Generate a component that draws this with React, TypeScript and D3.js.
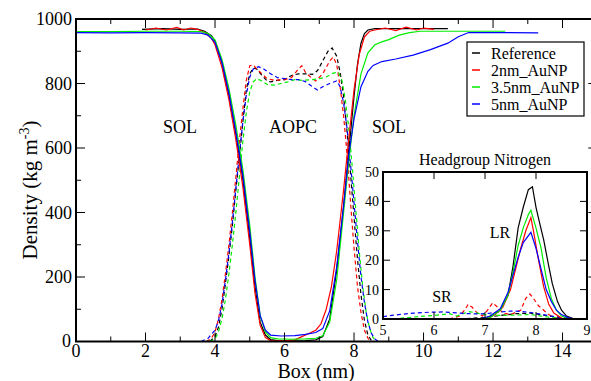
import React from "react";
import * as d3 from "d3";

// ---------- Data (main plot: density profiles, kg m^-3 vs box, nm) ----------
const seriesNames = ["Reference", "2nm_AuNP", "3.5nm_AuNP", "5nm_AuNP"];
const seriesColors = ["#000000", "#ff0000", "#00ee00", "#0000ff"];

// Solvent (solid)
const refSol: [number, number][] = [
  [1.9, 968], [2.5, 970], [3.0, 968], [3.5, 969], [3.7, 962], [3.9, 948], [4.0, 932], [4.2, 865], [4.4, 765], [4.6, 645],
  [4.8, 505], [5.0, 320], [5.15, 170], [5.3, 60], [5.45, 20], [5.6, 6], [5.8, 3], [6.2, 2], [6.6, 3], [6.9, 5],
  [7.1, 15], [7.3, 70], [7.5, 220], [7.7, 420], [7.85, 590], [8.0, 760], [8.1, 860], [8.2, 925], [8.3, 955], [8.4, 966],
  [8.6, 970], [9.0, 970], [9.5, 970], [10.0, 970], [10.7, 970],
];
const np2Sol: [number, number][] = [
  [2.0, 966], [2.3, 972], [2.6, 966], [2.9, 974], [3.1, 966], [3.3, 972], [3.5, 968], [3.7, 958], [3.9, 940], [4.0, 920],
  [4.2, 850], [4.4, 750], [4.6, 625], [4.8, 480], [5.0, 300], [5.15, 150], [5.3, 50], [5.45, 12], [5.6, 3], [6.0, 2],
  [6.3, 5], [6.5, 15], [6.7, 25], [6.9, 35], [7.05, 55], [7.2, 100], [7.35, 170], [7.5, 280], [7.7, 470], [7.85, 630],
  [8.0, 780], [8.15, 890], [8.3, 945], [8.45, 962], [8.6, 966], [8.9, 972], [9.2, 964], [9.5, 975], [9.8, 966], [10.0, 972], [10.3, 968],
];
const np35Sol: [number, number][] = [
  [0.0, 961], [1.0, 961], [2.0, 962], [3.0, 962], [3.6, 961], [3.8, 955], [4.0, 935], [4.2, 875], [4.4, 785], [4.6, 670],
  [4.8, 535], [5.0, 360], [5.15, 200], [5.3, 80], [5.45, 30], [5.6, 12], [5.8, 8], [6.2, 7], [6.6, 8], [6.9, 10],
  [7.1, 18], [7.3, 60], [7.5, 190], [7.7, 400], [7.85, 560], [8.0, 700], [8.2, 830], [8.4, 895], [8.6, 920], [8.8, 929],
  [9.0, 936], [9.3, 950], [9.6, 958], [9.9, 962], [10.5, 962], [11.5, 962], [12.35, 962],
];
const np5Sol: [number, number][] = [
  [0.0, 958], [1.0, 957], [2.0, 958], [3.0, 957], [3.6, 956], [3.8, 950], [4.0, 928], [4.2, 865], [4.4, 770], [4.6, 650],
  [4.8, 515], [5.0, 340], [5.15, 190], [5.3, 80], [5.45, 35], [5.6, 20], [5.9, 17], [6.3, 18], [6.6, 22], [6.9, 28],
  [7.1, 40], [7.3, 95], [7.5, 230], [7.7, 420], [7.85, 580], [8.0, 690], [8.2, 790], [8.4, 838], [8.55, 856], [8.8, 868],
  [9.2, 876], [9.7, 888], [10.2, 905], [10.7, 925], [11.0, 945], [11.3, 958], [12.0, 958], [13.3, 957],
];

// Lipid AOPC (dashed)
const refLip: [number, number][] = [
  [3.85, 0], [4.0, 15], [4.1, 45], [4.2, 100], [4.3, 180], [4.4, 265], [4.5, 360], [4.6, 470], [4.7, 570], [4.8, 680],
  [4.9, 780], [5.0, 830], [5.1, 848], [5.2, 845], [5.35, 825], [5.5, 808], [5.6, 805], [5.8, 810], [6.0, 812], [6.2, 825],
  [6.4, 830], [6.6, 830], [6.8, 828], [6.95, 840], [7.1, 870], [7.25, 900], [7.37, 910], [7.5, 885], [7.6, 835], [7.7, 760],
  [7.8, 650], [7.9, 520], [8.0, 385], [8.1, 255], [8.2, 145], [8.3, 65], [8.4, 20], [8.5, 3], [8.55, 0],
];
const np2Lip: [number, number][] = [
  [3.75, 0], [3.9, 10], [4.0, 30], [4.1, 70], [4.2, 130], [4.3, 210], [4.4, 300], [4.5, 400], [4.6, 510], [4.7, 620],
  [4.8, 720], [4.9, 810], [5.0, 855], [5.1, 858], [5.2, 845], [5.35, 830], [5.5, 815], [5.7, 810], [6.0, 812], [6.2, 818],
  [6.4, 845], [6.5, 855], [6.6, 835], [6.8, 815], [6.9, 808], [7.1, 830], [7.3, 870], [7.4, 882], [7.5, 860], [7.6, 790],
  [7.7, 700], [7.8, 580], [7.9, 430], [8.0, 290], [8.1, 170], [8.2, 90], [8.3, 35], [8.4, 10], [8.48, 0],
];
const np35Lip: [number, number][] = [
  [3.85, 0], [4.0, 8], [4.1, 30], [4.2, 70], [4.3, 130], [4.4, 210], [4.5, 300], [4.6, 400], [4.7, 510], [4.8, 620],
  [4.9, 710], [5.0, 775], [5.1, 805], [5.2, 815], [5.35, 808], [5.5, 797], [5.7, 795], [5.9, 800], [6.1, 805], [6.3, 812],
  [6.5, 810], [6.8, 812], [7.0, 815], [7.2, 820], [7.4, 832], [7.55, 835], [7.65, 810], [7.75, 750], [7.85, 660], [7.95, 540],
  [8.05, 410], [8.15, 280], [8.25, 170], [8.35, 90], [8.45, 40], [8.55, 12], [8.65, 0],
];
const np5Lip: [number, number][] = [
  [3.6, 0], [3.8, 10], [4.0, 35], [4.1, 65], [4.2, 115], [4.3, 190], [4.4, 275], [4.5, 370], [4.6, 475], [4.7, 580],
  [4.8, 680], [4.9, 765], [5.0, 820], [5.1, 845], [5.25, 852], [5.4, 845], [5.6, 830], [5.8, 818], [6.0, 815], [6.2, 812],
  [6.4, 812], [6.6, 806], [6.8, 790], [6.95, 780], [7.1, 790], [7.3, 800], [7.5, 808], [7.6, 790], [7.7, 740], [7.8, 660],
  [7.9, 550], [8.0, 430], [8.1, 310], [8.2, 200], [8.3, 120], [8.4, 60], [8.5, 25], [8.6, 8], [8.7, 0],
];

// ---------- Inset: headgroup nitrogen ----------
const refLR: [number, number][] = [
  [6.9, 0], [7.1, 0.5], [7.3, 3], [7.45, 8], [7.55, 18], [7.65, 31], [7.75, 38], [7.85, 44], [7.93, 45], [8.0, 38],
  [8.08, 32], [8.15, 27], [8.25, 18], [8.32, 12], [8.42, 6], [8.5, 3], [8.6, 1], [8.75, 0],
];
const np2LR: [number, number][] = [
  [7.0, 0], [7.2, 1.5], [7.35, 4], [7.5, 10], [7.6, 17], [7.7, 24], [7.8, 30], [7.9, 34.5], [7.95, 30], [8.05, 20],
  [8.15, 11], [8.25, 5], [8.35, 2], [8.5, 0.3], [8.6, 0],
];
const np35LR: [number, number][] = [
  [6.9, 0], [7.1, 0.5], [7.3, 3], [7.45, 8], [7.55, 16], [7.65, 25], [7.75, 31], [7.85, 35.5], [7.9, 37], [8.0, 31],
  [8.1, 24], [8.2, 14], [8.3, 7], [8.4, 3], [8.5, 1], [8.65, 0],
];
const np5LR: [number, number][] = [
  [6.9, 0], [7.1, 1], [7.3, 3.5], [7.45, 9], [7.55, 15], [7.65, 21], [7.75, 26], [7.9, 29.5], [8.0, 24], [8.1, 17],
  [8.2, 10], [8.3, 6], [8.4, 3], [8.5, 1.5], [8.65, 0.3], [8.8, 0],
];
const refSR: [number, number][] = [
  [6.5, 0], [7.0, 0.5], [7.3, 1.2], [7.6, 1.8], [7.9, 2], [8.2, 1.2], [8.5, 0.4], [8.8, 0],
];
const np2SR: [number, number][] = [
  [6.3, 0], [6.5, 1], [6.6, 3], [6.67, 5], [6.75, 4], [6.85, 2], [6.95, 1], [7.05, 3], [7.15, 5.5], [7.25, 4],
  [7.35, 2], [7.5, 1.5], [7.7, 3], [7.8, 7], [7.88, 8.5], [7.95, 7], [8.05, 4.5], [8.15, 3], [8.25, 1.5], [8.35, 0.5], [8.5, 0],
];
const np35SR: [number, number][] = [
  [5.2, 0], [5.5, 0.5], [5.8, 1], [6.0, 1.2], [6.3, 1.8], [6.45, 1], [6.6, 2], [6.7, 2.5], [6.85, 2], [7.0, 1.5],
  [7.2, 1.2], [7.5, 1.3], [7.7, 1.4], [7.9, 1.5], [8.1, 1], [8.3, 0.5], [8.5, 0.2], [8.8, 0],
];
const np5SR: [number, number][] = [
  [5.0, 0.8], [5.3, 1.5], [5.6, 2], [5.9, 2.3], [6.2, 2.4], [6.5, 2], [6.7, 1.8], [6.9, 1.7], [7.1, 2], [7.3, 2.4],
  [7.5, 2.7], [7.7, 2.6], [7.9, 2.2], [8.1, 1.6], [8.3, 1], [8.5, 0.5], [8.7, 0.2], [9.0, 0],
];

const mainXTicks = [0, 2, 4, 6, 8, 10, 12, 14];
const mainYTicks = [0, 200, 400, 600, 800, 1000];
const insetXTicks = [5, 6, 7, 8, 9];
const insetYTicks = [0, 10, 20, 30, 40, 50];

const W = 591;
const H = 381;
const FONT = "Liberation Serif";

export default function App() {
  // Main plot geometry
  const x = d3.scaleLinear().domain([0, 15]).range([76, 597.3]);
  const y = d3.scaleLinear().domain([0, 1000]).range([341.5, 19]);
  // Inset geometry
  const ix = d3.scaleLinear().domain([5, 9]).range([383, 587]);
  const iy = d3.scaleLinear().domain([0, 50]).range([319, 172]);

  const line = d3.line<[number, number]>().x((d) => x(d[0])).y((d) => y(d[1]));
  const iline = d3.line<[number, number]>().x((d) => ix(d[0])).y((d) => iy(d[1]));

  const solids = [refSol, np2Sol, np35Sol, np5Sol];
  const lipids = [refLip, np2Lip, np35Lip, np5Lip];
  const lrs = [refLR, np2LR, np35LR, np5LR];
  const srs = [refSR, np2SR, np35SR, np5SR];

  const xMinor = d3.range(0, 16, 1);
  const yMinor = d3.range(0, 1001, 100);

  const [x0, x1] = x.range();
  const [y0, y1] = y.range();

  const tf = (size: number) => ({ fontFamily: FONT, fontSize: size });

  return (
    <svg width={W} height={H} style={{ position: "absolute", left: 0, top: 0, background: "#fff" }}>
      <rect x={0} y={0} width={W} height={H} fill="#fff" />
      <defs>
        <clipPath id="mainclip">
          <rect x={x0} y={y1} width={x1 - x0} height={y0 - y1} />
        </clipPath>
        <clipPath id="insetclip">
          <rect x={ix(5)} y={iy(50)} width={ix(9) - ix(5)} height={iy(0) - iy(50)} />
        </clipPath>
      </defs>

      {/* main curves */}
      <g clipPath="url(#mainclip)" fill="none" strokeWidth={1.2}>
        {lipids.map((d, i) => (
          <path key={"l" + i} d={line(d) || ""} stroke={seriesColors[i]} strokeDasharray="4,3" />
        ))}
        {solids.map((d, i) => (
          <path key={"s" + i} d={line(d) || ""} stroke={seriesColors[i]} />
        ))}
      </g>

      {/* main ticks */}
      <g stroke="#000" strokeWidth={1}>
        {xMinor.map((t) => {
          const len = t % 2 === 0 ? 9 : 5;
          return (
            <g key={"xt" + t}>
              <line x1={x(t)} x2={x(t)} y1={y0} y2={y0 - len} />
              <line x1={x(t)} x2={x(t)} y1={y1} y2={y1 + len} />
            </g>
          );
        })}
        {yMinor.map((t) => {
          const len = t % 200 === 0 ? 9 : 5;
          return (
            <g key={"yt" + t}>
              <line x1={x0} x2={x0 + len} y1={y(t)} y2={y(t)} />
              <line x1={x1} x2={x1 - len} y1={y(t)} y2={y(t)} />
            </g>
          );
        })}
      </g>
      <rect x={x0} y={y1} width={x1 - x0} height={y0 - y1} fill="none" stroke="#000" strokeWidth={2} />

      {/* main tick labels */}
      <g fill="#000">
        {mainXTicks.map((t) => (
          <text key={"xl" + t} x={x(t)} y={357} textAnchor="middle" style={tf(18)}>
            {t}
          </text>
        ))}
        {mainYTicks.map((t) => (
          <text key={"yl" + t} x={t === 0 ? 71 : 72} y={y(t) + (t === 0 ? 5 : 6)} textAnchor="end" style={tf(18)}>
            {t}
          </text>
        ))}
      </g>

      {/* axis titles */}
      <text x={316} y={378} textAnchor="middle" style={tf(20)}>
        Box (nm)
      </text>
      <text transform="translate(37,190) rotate(-90)" textAnchor="middle" style={tf(21)}>
        Density (kg m
        <tspan style={tf(14)} dy={-8}>-3</tspan>
        <tspan dy={8}>)</tspan>
      </text>

      {/* region labels */}
      <g textAnchor="middle">
        <text x={180} y={133} style={tf(18)}>SOL</text>
        <text x={293} y={133} style={tf(18)}>AOPC</text>
        <text x={389} y={133} style={tf(18)}>SOL</text>
      </g>

      {/* legend */}
      <rect x={467} y={42} width={117} height={74} fill="#fff" stroke="#000" strokeWidth={1.2} />
      {seriesNames.map((n, i) => (
        <g key={"lg" + i}>
          <line x1={472} x2={480} y1={53 + i * 17} y2={53 + i * 17} stroke={seriesColors[i]} strokeWidth={1.5} />
          <text x={491} y={58.5 + i * 17} style={tf(16)}>
            {n}
          </text>
        </g>
      ))}

      {/* inset */}
      <text x={485} y={165} textAnchor="middle" style={tf(16)}>
        Headgroup Nitrogen
      </text>
      <rect x={ix(5)} y={iy(50)} width={ix(9) - ix(5)} height={iy(0) - iy(50)} fill="#fff" />
      <g clipPath="url(#insetclip)" fill="none" strokeWidth={1.2}>
        {srs.map((d, i) => (
          <path key={"sr" + i} d={iline(d) || ""} stroke={seriesColors[i]} strokeDasharray="4,3" />
        ))}
        {lrs.map((d, i) => (
          <path key={"lr" + i} d={iline(d) || ""} stroke={seriesColors[i]} />
        ))}
      </g>
      <g stroke="#000" strokeWidth={1}>
        {insetXTicks.map((t) => (
          <g key={"ixt" + t}>
            <line x1={ix(t)} x2={ix(t)} y1={iy(0)} y2={iy(0) - 7} />
            <line x1={ix(t)} x2={ix(t)} y1={iy(50)} y2={iy(50) + 7} />
          </g>
        ))}
        {insetYTicks.map((t) => (
          <g key={"iyt" + t}>
            <line x1={ix(5)} x2={ix(5) + 7} y1={iy(t)} y2={iy(t)} />
            <line x1={ix(9)} x2={ix(9) - 7} y1={iy(t)} y2={iy(t)} />
          </g>
        ))}
      </g>
      <rect x={ix(5)} y={iy(50)} width={ix(9) - ix(5)} height={iy(0) - iy(50)} fill="none" stroke="#000" strokeWidth={2} />
      <g>
        {insetXTicks.map((t) => (
          <text key={"ixl" + t} x={ix(t)} y={335} textAnchor="middle" style={tf(14)}>
            {t}
          </text>
        ))}
        {insetYTicks.map((t) => (
          <text key={"iyl" + t} x={379} y={iy(t) + 5} textAnchor="end" style={tf(14)}>
            {t}
          </text>
        ))}
      </g>
      <g textAnchor="middle">
        <text x={500} y={238} style={tf(16)}>LR</text>
        <text x={442} y={302} style={tf(16)}>SR</text>
      </g>
    </svg>
  );
}
